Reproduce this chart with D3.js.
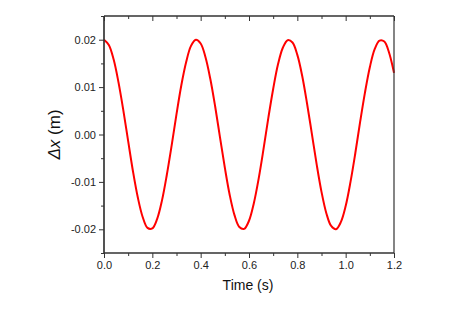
<!DOCTYPE html>
<html><head><meta charset="utf-8">
<script src="https://cdn.jsdelivr.net/npm/d3@7"></script>
<style>
html,body{margin:0;padding:0;background:#fff;}
svg{display:block;font-family:"Liberation Sans",Arial,sans-serif;}
</style></head>
<body>
<svg id="chart" width="468" height="331"></svg>
<script>
const time = [0.00,0.02,0.04,0.06,0.08,0.10,0.12,0.14,0.16,0.18,0.20,0.22,0.24,0.26,0.28,0.30,0.32,0.34,0.36,0.38,
0.40,0.42,0.44,0.46,0.48,0.50,0.52,0.54,0.56,0.58,0.60,0.62,0.64,0.66,0.68,0.70,0.72,0.74,0.76,0.78,
0.80,0.82,0.84,0.86,0.88,0.90,0.92,0.94,0.96,0.98,1.00,1.02,1.04,1.06,1.08,1.10,1.12,1.14,1.16,1.18,1.20];
const deltaX = [0.0200,0.0189,0.0158,0.0110,0.0051,-0.0014,-0.0078,-0.0133,-0.0174,-0.0197,-0.0198,-0.0178,-0.0139,-0.0085,-0.0023,0.0043,0.0104,0.0153,0.0187,0.0200,
0.0192,0.0163,0.0117,0.0059,-0.0006,-0.0070,-0.0127,-0.0170,-0.0195,-0.0199,-0.0182,-0.0145,-0.0093,-0.0031,0.0035,0.0096,0.0148,0.0183,0.0199,0.0194,
0.0168,0.0124,0.0066,0.0002,-0.0063,-0.0121,-0.0166,-0.0193,-0.0200,-0.0185,-0.0151,-0.0100,-0.0039,0.0027,0.0089,0.0142,0.0180,0.0198,0.0196,0.0172,0.0130];
const xTicks = [0.0,0.2,0.4,0.6,0.8,1.0,1.2];
const xMinor = [0.1,0.3,0.5,0.7,0.9,1.1];
const yTicks = [-0.02,-0.01,0.00,0.01,0.02];
const yTickLabels = ["-0.02","-0.01","0.00","0.01","0.02"];
const yMinor = [-0.025,-0.015,-0.005,0.005,0.015,0.025];

const L=104, R=394, T=16, B=253;
const svg = d3.select("#chart");
const x = d3.scaleLinear().domain([0,1.2]).range([L,R]);
const y = d3.scaleLinear().domain([-0.025,0.025]).range([B,T]);
const axCol = "#333";

// curve
const pts = time.map((t,i)=>[t,deltaX[i]]);
svg.append("path").datum(pts)
  .attr("fill","none").attr("stroke","#ff0000").attr("stroke-width",2)
  .attr("d", d3.line().x(d=>x(d[0])).y(d=>y(d[1])).curve(d3.curveCatmullRom.alpha(0.5)));

// bottom axis
const gB = svg.append("g").attr("transform",`translate(0,${B})`)
  .call(d3.axisBottom(x).tickValues(xTicks).tickFormat(d3.format(".1f")).tickSize(5).tickPadding(3));
const gBm = svg.append("g").attr("transform",`translate(0,${B})`)
  .call(d3.axisBottom(x).tickValues(xMinor).tickFormat("").tickSize(3));
// top axis (inward)
const gT = svg.append("g").attr("transform",`translate(0,${T})`)
  .call(d3.axisTop(x).tickValues(xTicks).tickFormat("").tickSize(-5));
const gTm = svg.append("g").attr("transform",`translate(0,${T})`)
  .call(d3.axisTop(x).tickValues(xMinor).tickFormat("").tickSize(-3));
// left axis
const gL = svg.append("g").attr("transform",`translate(${L},0)`)
  .call(d3.axisLeft(y).tickValues(yTicks).tickFormat((d,i)=>yTickLabels[i]).tickSize(5).tickPadding(3));
const gLm = svg.append("g").attr("transform",`translate(${L},0)`)
  .call(d3.axisLeft(y).tickValues(yMinor).tickFormat("").tickSize(3));
// right axis
const gR = svg.append("g").attr("transform",`translate(${R},0)`)
  .call(d3.axisRight(y).tickValues([]).tickSize(0));

svg.selectAll(".domain").attr("stroke",axCol).attr("stroke-width",1.2);
svg.selectAll(".tick line").attr("stroke",axCol).attr("stroke-width",1);
svg.selectAll(".tick text").attr("fill","#222").attr("font-size",11)
  .attr("font-family",'"Liberation Sans",Arial,sans-serif');
[gB,gBm,gT,gTm].forEach(g=>g.select(".domain").attr("d",`M${L},0H${R}`));
[gL,gLm].forEach(g=>g.select(".domain").attr("d",`M0,${T}V${B+1}`));
gR.select(".domain").attr("d",`M0,${T}V${B}`);

// titles
svg.append("text").attr("x",(L+R)/2 - 1).attr("y",290).attr("text-anchor","middle")
  .attr("font-size",14).attr("fill","#111").text("Time (s)");
const yt = svg.append("text").attr("transform",`translate(60,${(T+B)/2}) rotate(-90)`)
  .attr("text-anchor","middle").attr("font-size",17).attr("fill","#111");
yt.append("tspan").attr("font-style","italic").text("Δx");
yt.append("tspan").text(" (m)");
</script>
</body></html>
